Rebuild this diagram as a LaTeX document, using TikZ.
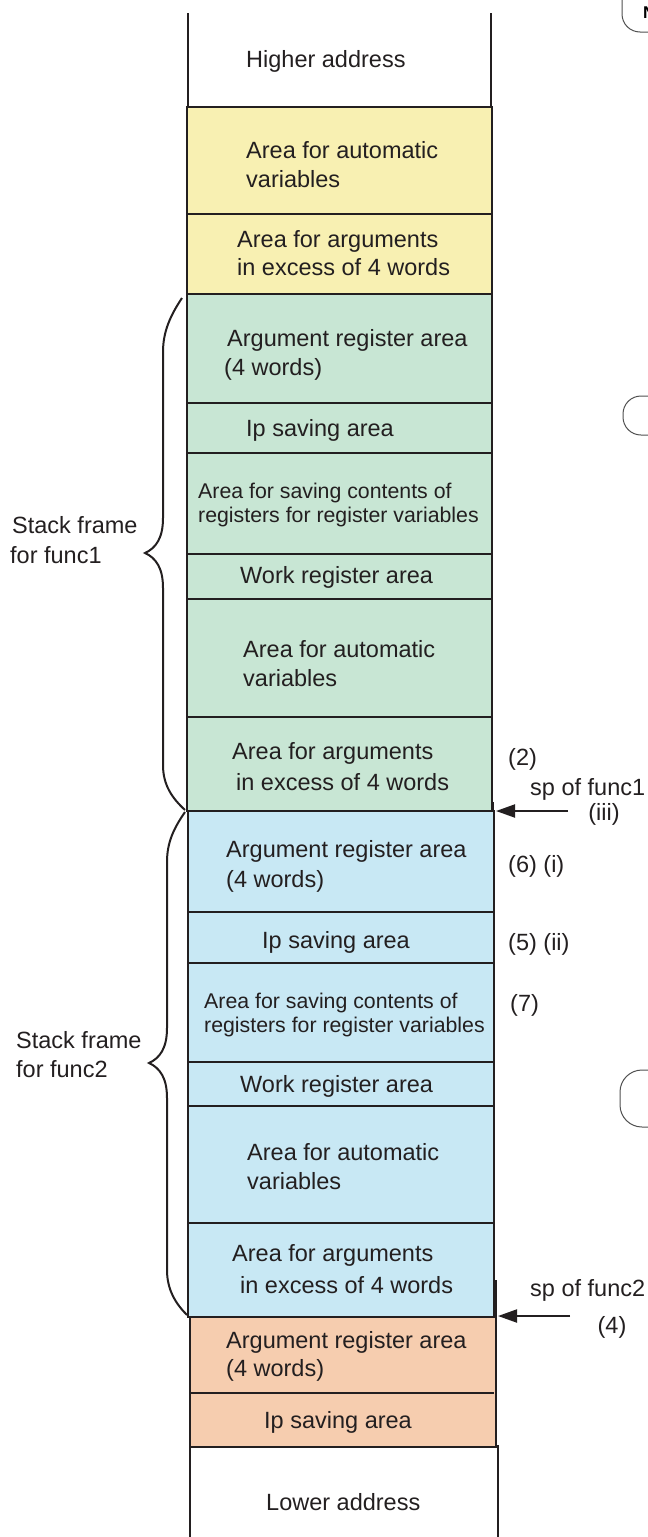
\documentclass[tikz,border=0pt]{standalone}
\usepackage{fontspec}
\setmainfont{Liberation Sans}
\usetikzlibrary{arrows.meta}
\definecolor{cyel}{RGB}{248,240,178}
\definecolor{cgrn}{RGB}{200,230,212}
\definecolor{cblu}{RGB}{200,232,244}
\definecolor{corg}{RGB}{246,205,175}
\definecolor{cline}{RGB}{35,31,32}
\definecolor{cgray}{RGB}{80,80,80}
\begin{document}
\begin{tikzpicture}[x=1pt,y=-1pt,
  outl/.style={draw=cline,line width=2pt},
  thin/.style={draw=cline,line width=1.8pt},
  brc/.style={draw=cline,line width=2pt,line join=miter},
  callout/.style={draw=cgray,line width=1pt,rounded corners=18pt},
  lbl/.style={anchor=base west,inner sep=0pt,text=cline,font=\fontsize{23.5}{29}\selectfont},
  slbl/.style={anchor=base west,inner sep=0pt,text=cline,font=\fontsize{21.3}{24}\selectfont},
  clbl/.style={anchor=base,inner sep=0pt,text=cline,font=\fontsize{23.5}{29}\selectfont},
  arr/.style={draw=cline,line width=2pt,-{Triangle[length=19pt,width=13pt]}}]
\useasboundingbox (0,0) rectangle (648,1537);
\begin{scope}
\clip (0,0) rectangle (648,1537);

% ---- top white part
\draw[thin] (188,13) -- (188,107);
\draw[thin] (491,13) -- (491,107);
\node[lbl] (hi) at (246,67) {Higher address};

% ---- yellow section
\path[fill=cyel] (187,107) rectangle (492,294);
\draw[outl] (187,107) rectangle (492,294);
\draw[outl] (187,214) -- (492,214);
\node[lbl] (y1a) at (246,158) {Area for automatic};
\node[lbl] (y1b) at (246,187) {variables};
\node[lbl] (y2a) at (237,247) {Area for arguments};
\node[lbl] (y2b) at (237,275) {in excess of 4 words};

% ---- green section (func1)
\path[fill=cgrn] (187,294) rectangle (492,811);
\draw[outl] (187,294) rectangle (492,811);
\foreach \yy in {403,453,554,599,717} \draw[outl] (187,\yy) -- (492,\yy);
\node[lbl] (g1a) at (227,346) {Argument register area};
\node[lbl] (g1b) at (224,375) {(4 words)};
\node[lbl] (g2) at (246,436) {Ip saving area};
\node[slbl] (g3a) at (198,498) {Area for saving contents of};
\node[slbl] (g3b) at (198,522) {registers for register variables};
\node[lbl] (g4) at (240,583) {Work register area};
\node[lbl] (g5a) at (243,657) {Area for automatic};
\node[lbl] (g5b) at (243,686) {variables};
\node[lbl] (g6a) at (232,759) {Area for arguments};
\node[lbl] (g6b) at (236,790) {in excess of 4 words};
\draw[outl] (493,802) -- (493,811);

% ---- blue section (func2)
\path[fill=cblu] (188,811) rectangle (494,1317);
\draw[outl] (188,811) rectangle (494,1317);
\foreach \yy in {912,963,1062,1106,1223} \draw[outl] (188,\yy) -- (494,\yy);
\node[lbl] (b1a) at (226,857) {Argument register area};
\node[lbl] (b1b) at (226,887) {(4 words)};
\node[lbl] (b2) at (262,948) {Ip saving area};
\node[slbl] (b3a) at (204,1008) {Area for saving contents of};
\node[slbl] (b3b) at (204,1032) {registers for register variables};
\node[lbl] (b4) at (240,1092) {Work register area};
\node[lbl] (b5a) at (247,1160) {Area for automatic};
\node[lbl] (b5b) at (247,1189) {variables};
\node[lbl] (b6a) at (232,1261) {Area for arguments};
\node[lbl] (b6b) at (240,1293) {in excess of 4 words};
\draw[outl] (496,1280) -- (496,1317);

% ---- orange section
\path[fill=corg] (190,1317) rectangle (496,1447);
\draw[outl] (190,1317) rectangle (496,1447);
\draw[outl] (190,1393) -- (494,1393);
\node[lbl] (o1a) at (226,1348) {Argument register area};
\node[lbl] (o1b) at (226,1376) {(4 words)};
\node[lbl] (o2) at (264,1428) {Ip saving area};

% ---- lower white part
\draw[thin] (190,1447) -- (190,1537);
\draw[thin] (498,1445) -- (498,1537);
\node[lbl] (lo) at (266,1510) {Lower address};

% ---- braces and frame labels
\draw[brc] (182,298) .. controls (170,316) and (163,332) .. (163,352)
  -- (163,518) .. controls (163,538) and (156,548) .. (145,553)
  .. controls (156,558) and (163,568) .. (163,588)
  -- (163,765) .. controls (163,785) and (172,798) .. (185,810);
\node[lbl] (sf1a) at (12,533) {Stack frame};
\node[lbl] (sf1b) at (10,563) {for func1};

\draw[brc] (185,812) .. controls (174,828) and (167,842) .. (167,862)
  -- (167,1028) .. controls (167,1048) and (160,1058) .. (149,1063)
  .. controls (160,1068) and (167,1078) .. (167,1098)
  -- (167,1270) .. controls (167,1290) and (176,1304) .. (187,1315);
\node[lbl] (sf2a) at (16,1048) {Stack frame};
\node[lbl] (sf2b) at (16,1077) {for func2};

% ---- right-hand labels and sp arrows
\node[lbl] (n2) at (508,765) {(2)};
\node[lbl] (sp1) at (530,795) {sp of func1};
\node[clbl] (s3) at (604,820) {(iii)};
\coordinate (sp1tail) at (568,811);
\coordinate (sp1tip) at (496,811);
\draw[arr] (sp1tail) -- (sp1tip);
\node[lbl] (n6) at (508,872) {(6) (i)};
\node[lbl] (n5) at (508,950) {(5) (ii)};
\node[lbl] (n7) at (510,1011) {(7)};
\node[lbl] (sp2) at (530,1296) {sp of func2};
\node[clbl] (n4) at (612,1333) {(4)};
\coordinate (sp2tail) at (570,1316);
\coordinate (sp2tip) at (498,1316);
\draw[arr] (sp2tail) -- (sp2tip);

% ---- callouts cut off at the right edge
\draw[callout] (622,-40) rectangle (720,32);
\node[anchor=base west,inner sep=0pt,text=black,font=\bfseries\fontsize{17}{20}\selectfont] (cl1t) at (643,18) {N};
\draw[callout] (623,396) rectangle (720,435);
\draw[callout,rounded corners=22pt] (620,1070) rectangle (720,1127);
\end{scope}
\end{tikzpicture}
\end{document}
